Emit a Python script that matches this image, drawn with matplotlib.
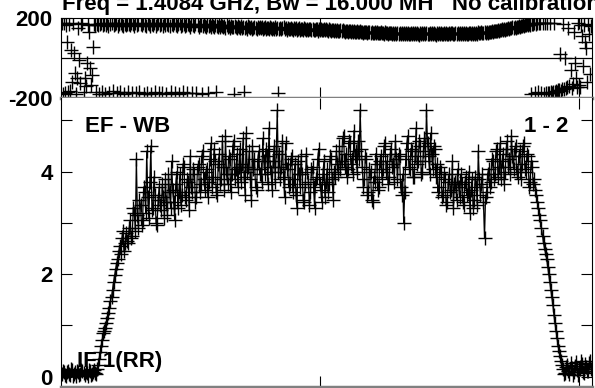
import matplotlib
matplotlib.use("Agg")
import matplotlib.pyplot as plt
import numpy as np

# POSSM-style spectrum, baseline EF - WB, IF 1 (RR)
TITLE = "Freq = 1.4084 GHz, Bw = 16.000 MH   No calibration applied"
BASELINE = "EF - WB"
ANTENNAS = "1 - 2"
IF_LABEL = "IF 1(RR)"

# channel centres (512 averaged channels over 1024)
channels = np.arange(512) * 2 + 1.5

amplitude = [
    0.05, 0.12, 0.09, 0.03, 0.02, 0.10, 0.11, 0.06, 0.04, 0.15, 0.13, 0.02, 0.06, 0.09, 0.01, 0.12,
    0.10, 0.04, 0.05, 0.14, 0.12, 0.07, 0.03, 0.10, 0.08, 0.01, 0.14, 0.11, 0.04, 0.06, 0.09, 0.13,
    0.07, 0.05, 0.15, 0.22, 0.35, 0.48, 0.60, 0.72, 0.85, 0.90, 0.95, 1.05, 1.15, 1.25, 1.35, 1.48,
    1.55, 1.70, 1.85, 1.98, 2.10, 2.22, 2.30, 2.45, 2.55, 2.40, 2.70, 2.85, 2.45, 2.60, 2.80, 2.65,
    2.60, 2.90, 3.05, 2.70, 2.75, 3.30, 3.20, 2.85, 4.25, 3.15, 2.90, 3.45, 3.35, 2.95, 3.05, 3.70,
    3.60, 3.20, 4.40, 3.50, 3.10, 3.80, 4.50, 3.25, 3.30, 3.90, 3.55, 3.00, 2.95, 3.45, 3.70, 3.35,
    3.25, 3.75, 3.50, 3.10, 3.85, 3.40, 3.15, 3.95, 3.60, 3.30, 4.20, 3.65, 3.40, 3.05, 3.75, 4.00,
    3.30, 3.60, 3.95, 3.35, 3.55, 4.15, 4.10, 3.50, 3.45, 3.85, 3.80, 3.25, 4.30, 3.70, 3.60, 4.05,
    3.95, 3.40, 3.50, 4.10, 4.15, 3.60, 3.75, 4.30, 4.40, 3.85, 3.65, 4.00, 4.05, 3.50, 3.80, 4.25,
    4.55, 3.70, 3.90, 4.45, 4.20, 3.60, 3.55, 4.15, 4.35, 3.75, 3.85, 4.60, 4.10, 3.65, 4.70, 3.95,
    3.75, 4.30, 4.25, 3.60, 3.95, 4.50, 4.60, 3.85, 4.05, 4.35, 3.70, 4.10, 4.45, 3.80, 4.15, 4.65,
    3.90, 3.55, 4.75, 4.00, 4.10, 4.40, 3.85, 3.45, 4.50, 4.05, 4.25, 3.70, 3.65, 4.20, 4.40, 3.95,
    4.05, 3.80, 4.65, 4.20, 3.95, 4.45, 4.30, 3.75, 4.85, 4.10, 4.00, 3.65, 4.20, 4.50, 3.80, 4.40,
    5.20, 4.00, 4.35, 3.85, 4.10, 4.60, 3.90, 3.50, 4.55, 4.05, 4.15, 3.70, 3.75, 4.25, 4.30, 3.60,
    3.85, 4.15, 3.55, 3.30, 4.20, 3.95, 3.70, 4.30, 3.95, 3.45, 3.40, 3.75, 4.35, 4.00, 3.80, 3.35,
    3.60, 4.05, 4.10, 3.70, 3.30, 3.85, 3.90, 4.25, 4.45, 3.75, 3.65, 3.40, 3.95, 4.20, 3.50, 3.80,
    4.05, 3.60, 3.75, 4.30, 4.25, 3.85, 3.45, 4.00, 3.90, 4.40, 4.15, 3.95, 4.50, 4.05, 4.20, 4.65,
    4.70, 4.10, 4.35, 3.90, 4.05, 4.60, 4.55, 4.15, 4.25, 3.95, 4.80, 4.30, 4.40, 4.00, 4.60, 4.25,
    5.20, 4.45, 4.10, 3.70, 3.85, 4.30, 4.25, 3.55, 3.60, 4.05, 4.00, 3.45, 3.40, 3.90, 3.80, 4.35,
    4.15, 3.65, 3.70, 4.20, 4.30, 3.85, 4.05, 4.50, 4.55, 4.00, 4.20, 3.75, 3.90, 4.35, 4.45, 4.10,
    4.15, 3.80, 4.60, 4.25, 3.85, 4.35, 4.30, 3.70, 3.55, 3.95, 3.00, 3.60, 4.25, 4.55, 4.70, 4.10,
    4.05, 4.45, 4.40, 3.90, 3.90, 4.30, 4.85, 4.15, 4.20, 4.60, 4.50, 3.95, 4.00, 4.40, 4.65, 4.20,
    5.20, 4.55, 4.30, 3.95, 4.75, 4.35, 4.05, 4.50, 4.45, 3.90, 4.15, 3.60, 3.70, 4.10, 4.00, 3.50,
    3.55, 3.95, 3.85, 3.35, 3.40, 3.80, 3.95, 3.60, 3.65, 4.20, 3.30, 3.75, 3.80, 3.45, 4.05, 3.70,
    3.50, 3.95, 3.75, 3.40, 3.35, 3.80, 3.90, 3.55, 3.60, 4.00, 3.20, 3.65, 3.85, 3.30, 3.45, 3.90,
    3.70, 3.35, 4.40, 3.85, 3.55, 3.75, 3.95, 3.40, 2.70, 3.50, 3.60, 3.95, 4.05, 3.70, 3.80, 4.25,
    4.20, 3.85, 3.95, 4.40, 4.45, 3.90, 4.10, 4.55, 3.85, 4.20, 4.35, 3.75, 4.00, 4.45, 4.60, 4.10,
    4.25, 3.95, 4.70, 4.30, 4.05, 4.45, 4.50, 4.00, 3.90, 4.30, 4.40, 3.85, 4.15, 4.50, 4.55, 4.05,
    4.00, 4.35, 4.30, 3.70, 3.80, 4.20, 4.10, 3.75, 3.85, 3.65, 3.55, 3.40, 3.30, 3.15, 3.05, 2.90,
    2.75, 2.60, 2.50, 2.40, 2.30, 2.15, 2.00, 1.85, 1.70, 1.55, 1.40, 1.20, 1.05, 0.90, 0.75, 0.60,
    0.50, 0.40, 0.30, 0.22, 0.15, 0.05, 0.08, 0.19, 0.22, 0.11, 0.05, 0.26, 0.18, 0.04, 0.10, 0.21,
    0.28, 0.13, 0.03, 0.17, 0.15, 0.31, 0.25, 0.09, 0.07, 0.24, 0.20, 0.12, 0.12, 0.27, 0.30, 0.16,
]

phase = [
    175, -178, 176, -172, 168, 83, -170, 170, -165, 41, -120, 178, 26, -75, -176, -100,
    150, -8, -125, 172, 176, -168, -100, -140, -23, 166, 131, -48, -133, -83, 57, 172,
    168, -170, 174, 165, -176, 171, 178, -168, 166, 173, -178, 169, 176, 163, -172, 170,
    175, -165, 167, 172, 179, -174, 164, 170, -170, 177, 168, 162, -178, 174, 166, 171,
    -169, 173, 165, 178, -175, 170, 163, 176, -172, 168, 174, -166, 171, 165, 177, -179,
    169, 164, -173, 175, 170, 162, -177, 173, 167, 176, -168, 164, 172, 178, -174, 166,
    171, -171, 163, 175, 169, -176, 174, 167, 160, -170, 172, 165, 177, -173, 168, 162,
    170, -178, 175, 164, 168, -169, 173, 161, 167, -175, 171, 166, 159, 174, -172, 169,
    163, 170, -172, 165, 158, 169, 166, -178, 161, 171, 164, 157, 168, -174, 162, 166,
    159, 170, 164, 156, 167, -169, 161, 158, 165, 155, 168, 160, 157, 163, 154, 166,
    157, 162, 152, 164, 159, 155, -176, 161, 158, 153, 163, 156, 150, 160, 154, 158,
    -170, 152, 157, 149, 160, 155, 151, 157, 148, 153, 159, 150, 146, 155, 152, 158,
    150, 155, 147, 152, 156, 148, 151, 154, 145, 157, 150, 146, 153, 149, 155, 147,
    152, -175, 148, 154, 145, 150, 156, 147, 151, 144, 153, 149, 146, 152, 148, 143,
    150, 145, 151, 142, 148, 153, 144, 149, 146, 141, 150, 147, 143, 148, 140, 145,
    149, 142, 147, 144, 141, 148, 145, 139, 146, 143, 149, 140, 144, 147, 141, 145,
    143, 139, 146, 141, 138, 144, 140, 136, 143, 139, 142, 137, 135, 141, 138, 140,
    136, 134, 139, 137, 133, 138, 135, 132, 137, 134, 136, 131, 133, 136, 130, 134,
    135, 131, 133, 129, 134, 130, 132, 128, 133, 130, 127, 131, 129, 126, 132, 128,
    130, 126, 129, 125, 131, 127, 128, 124, 130, 126, 127, 123, 129, 125, 126, 122,
    128, 123, 127, 121, 126, 124, 129, 122, 125, 120, 127, 123, 128, 121, 126, 124,
    122, 127, 120, 125, 123, 128, 121, 126, 124, 119, 127, 122, 125, 120, 128, 123,
    126, 121, 124, 127, 120, 125, 122, 128, 123, 119, 126, 121, 125, 122, 127, 120,
    124, 128, 121, 126, 123, 120, 127, 122, 125, 129, 121, 124, 126, 122, 128, 123,
    125, 121, 127, 123, 126, 120, 128, 124, 122, 127, 125, 121, 129, 124, 126, 123,
    128, 124, 130, 126, 127, 131, 125, 129, 133, 128, 131, 127, 134, 130, 132, 136,
    133, 137, 135, 139, 136, 141, 138, 143, 140, 145, 142, 147, 144, 149, 146, 151,
    148, 153, 150, 155, 152, 157, 154, 159, 157, 161, 159, 163, 161, 165, 164, 167,
    166, 170, 168, 172, 169, -176, 174, 171, 176, -172, 173, 178, -168, 175, 177, -174,
    179, -176, 176, -173, 178, -171, -174, 175, -169, -172, -167, 177, -170, -163, -166, -160,
    -158, 20, -162, -152, 170, -155, 0, -148, -145, 150, -140, -60, -150, -130, 130, -25,
    -100, -142, 175, -135, -145, 165, 110, -40, 168, 80, 50, -120, 172, 120, -80, 160,
]

plt.rcParams['font.family'] = ['Liberation Sans', 'DejaVu Sans']
plt.rcParams['font.weight'] = 'bold'
FS = 16
EDGE = '#808080'

W, H = 595, 388
fig = plt.figure(figsize=(W / 100, H / 100), dpi=100, facecolor='white')

# pixel boxes of the two panels
left, right = 61, 592
top_y0, top_y1 = 18.3, 98.3
bot_y1 = 386.5

ax_ph = fig.add_axes([left / W, 1 - top_y1 / H, (right - left) / W, (top_y1 - top_y0) / H])
ax_amp = fig.add_axes([left / W, 1 - bot_y1 / H, (right - left) / W, (bot_y1 - top_y1) / H])

mk = dict(marker='+', markersize=9.5, markeredgewidth=1.0, color='black')

# phase panel: points only
ax_ph.plot(channels, phase, linestyle='none', **mk)
ax_ph.axhline(0, color='black', lw=0.9)
ax_ph.set_ylim(-200, 200)
ax_ph.set_yticks([-200, 200])
ax_ph.set_yticklabels(['-200', '200'], fontsize=FS, fontweight='bold')

# amplitude panel: connected points
ax_amp.plot(channels, amplitude, linestyle='-', linewidth=0.9, **mk)
ax_amp.set_ylim(-0.19, 5.43)
ax_amp.set_yticks([0, 2, 4])
ax_amp.set_yticklabels(['0', '2', '4'], fontsize=FS, fontweight='bold')
ax_amp.set_yticks([1, 3, 5], minor=True)

for ax in (ax_ph, ax_amp):
    ax.set_xlim(0, 1025)
    ax.set_xticks([500, 1000])
    ax.set_xticklabels([])
    ax.tick_params(axis='both', which='both', direction='in', length=8, width=0.8,
                   top=True, right=True, pad=6, colors='black')
    ax.tick_params(axis='y', which='minor', length=8)
    for side in ('left', 'right', 'top'):
        ax.spines[side].set_linewidth(0.8)
        ax.spines[side].set_color('black')
    ax.spines['bottom'].set_linewidth(2.5)
    ax.spines['bottom'].set_color(EDGE)
ax_amp.spines['top'].set_visible(False)

ax_amp.text((85 - left) / (right - left), (bot_y1 - 132) / (bot_y1 - top_y1), BASELINE,
            transform=ax_amp.transAxes, ha='left', va='baseline', fontsize=FS, fontweight='bold')
ax_amp.text((568 - left) / (right - left), (bot_y1 - 132) / (bot_y1 - top_y1), ANTENNAS,
            transform=ax_amp.transAxes, ha='right', va='baseline', fontsize=FS, fontweight='bold')
ax_amp.text((77 - left) / (right - left), (bot_y1 - 367) / (bot_y1 - top_y1), IF_LABEL,
            transform=ax_amp.transAxes, ha='left', va='baseline', fontsize=FS, fontweight='bold')

fig.text(62 / W, 1 - 10 / H, TITLE, ha='left', va='baseline', fontsize=FS, fontweight='bold')

fig.savefig('out.png', dpi=100, facecolor='white')
